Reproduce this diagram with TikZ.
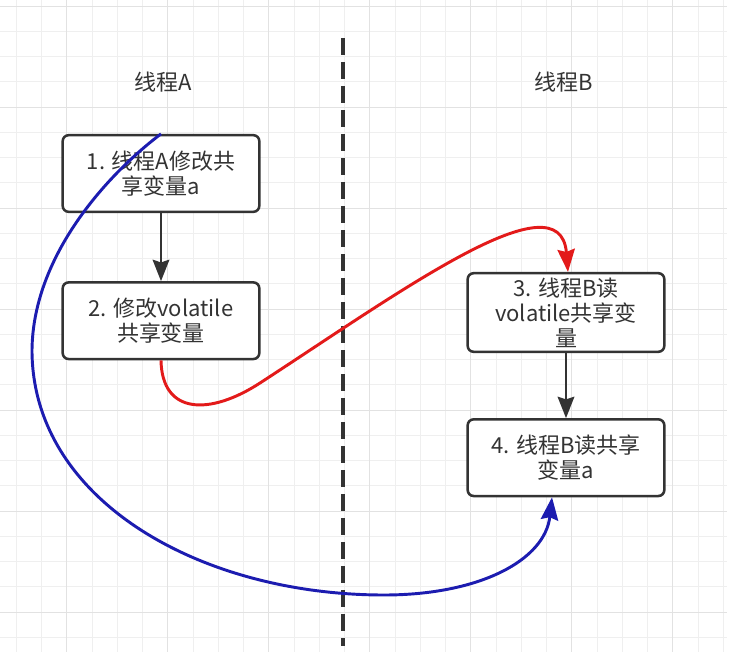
\documentclass[tikz,border=0pt]{standalone}
\usepackage{fontspec}
\setmainfont{Noto Sans CJK SC}
\usepackage{xcolor}
\usepackage{tikz}
\usetikzlibrary{arrows.meta, positioning}

\definecolor{textgray}{HTML}{333333}
\definecolor{gridminor}{HTML}{EFEFEF}
\definecolor{gridmajor}{HTML}{E2E2E2}
\definecolor{flowred}{HTML}{E31A1A}
\definecolor{flowblue}{HTML}{1C1CB0}

\begin{document}
\begin{tikzpicture}[
    x=0.75pt, y=-0.75pt,
    box/.style={rectangle, draw=textgray, line width=1.9pt, rounded corners=4.5pt, minimum width=147.5pt, minimum height=57.5pt, align=center, font=\fontsize{16.5}{18.75}\selectfont, text=textgray, fill=white},
    title/.style={font=\fontsize{16.5}{18.75}\selectfont, text=textgray},
    arrow/.style={-{Stealth[length=16pt, width=12.5pt, inset=2pt]}, line width=1.8pt, color=textgray},
    curvearrow/.style={-{Stealth[length=17pt, width=13pt, inset=2pt]}, line width=2.2pt},
    divider/.style={draw=textgray, line width=2.4pt, dash pattern=on 12.75pt off 5.25pt},
    gridline/.style={line width=0.75pt, draw=gridminor},
    gridbold/.style={line width=0.75pt, draw=gridmajor}
]
    \useasboundingbox (0,0) rectangle (744,662);
    \fill[white] (0,0) rectangle (744,662);

    % Background grid
    \foreach \i in {0,...,28}
        \draw[gridline] ({16.4+25.25*\i},0) -- ({16.4+25.25*\i},652);
    \foreach \j in {0,...,25}
        \draw[gridline] (0,{6+25.25*\j}) -- (727,{6+25.25*\j});
    \foreach \i in {2,6,...,26}
        \draw[gridbold] ({16.4+25.25*\i},0) -- ({16.4+25.25*\i},652);
    \foreach \j in {0,4,...,24}
        \draw[gridbold] (0,{6+25.25*\j}) -- (727,{6+25.25*\j});

    % Thread separator
    \coordinate (divtop) at (343,38);
    \coordinate (divbot) at (343,646);
    \draw[divider] (divtop) -- (divbot);

    % Thread titles
    \node[title] (threadA) at (163,82) {线程A};
    \node[title] (threadB) at (564,82) {线程B};

    % Thread A steps
    \node[box] (step1) at (161,173.5) {1. 线程A修改共\\享变量a};
    \node[box, below=51pt of step1] (step2) {2. 修改volatile\\共享变量};

    % Thread B steps
    \node[box] (step3) at (566,312.5) {3. 线程B读\\volatile共享变\\量};
    \node[box, below=48.75pt of step3] (step4) {4. 线程B读共享\\变量a};

    % Arrows
    \draw[arrow] (step1) -- (step2);
    \draw[arrow] (step3) -- (step4);
    \draw[curvearrow, flowred] (step2.south) .. controls (162,415) and (210,415.5) .. (260,383)
        .. controls (400,292) and (560,175) .. ([xshift=1.5pt]step3.north);
    \draw[curvearrow, flowblue] (step1.north) .. controls (113,170) and (33,252) .. (32,350)
        .. controls (32,500) and (200,595) .. (384,595)
        .. controls (480,595) and (545,560) .. ([xshift=-10.5pt]step4.south);
\end{tikzpicture}
\end{document}
